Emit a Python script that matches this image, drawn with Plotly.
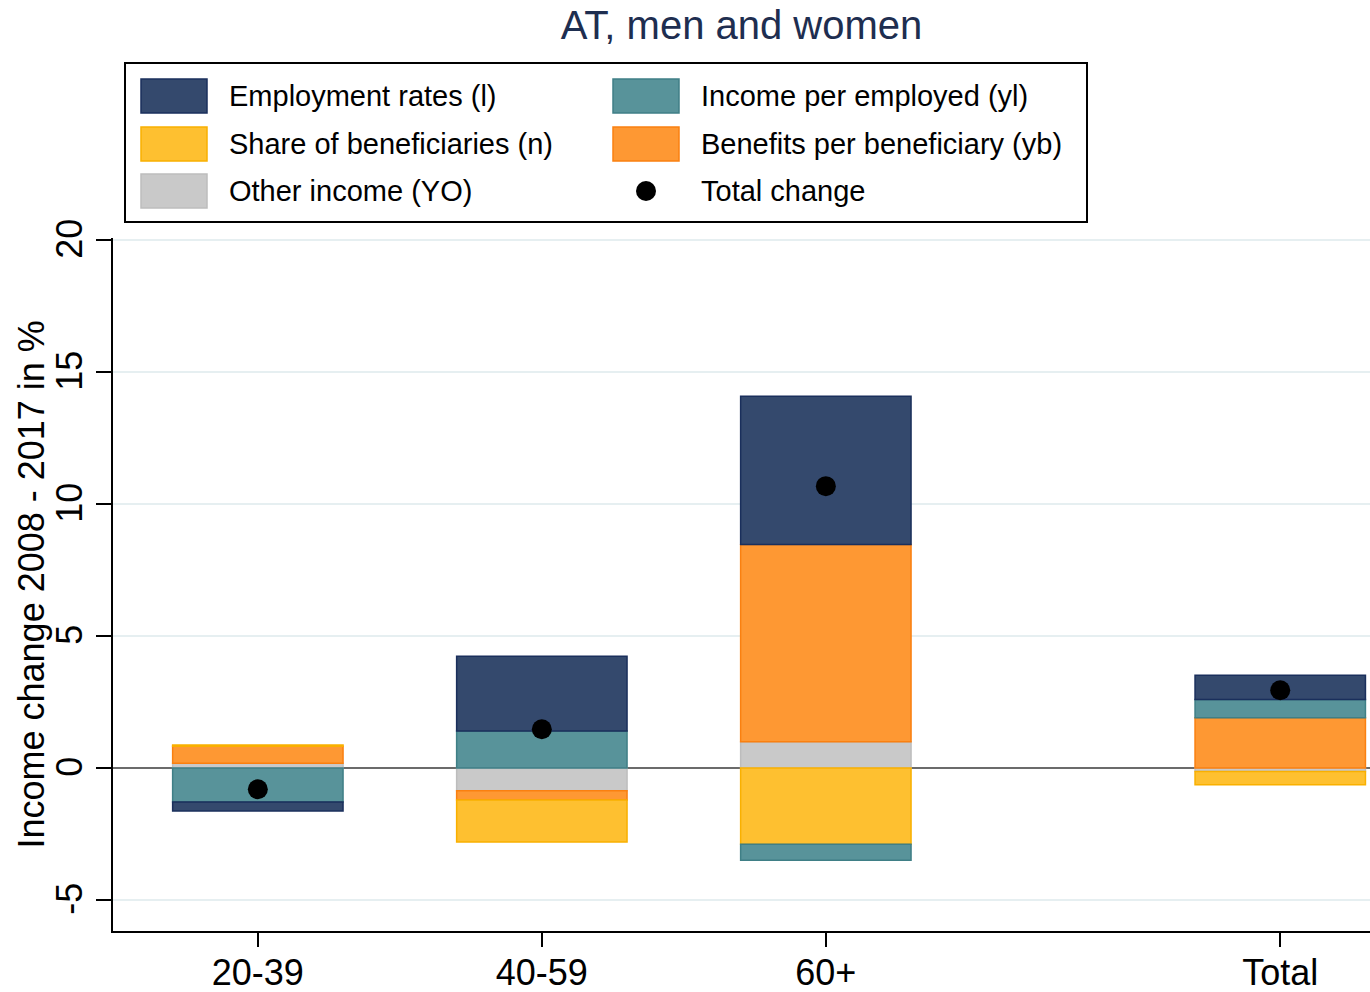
import plotly.graph_objects as go

# Decomposition of income change 2008-2017 by age group, in %
categories = ["20-39", "40-59", "60+", "Total"]
employment_rates = [-0.34, 2.83, 5.62, 0.92]          # (l)
income_per_employed = [-1.28, 1.41, -0.61, 0.69]      # (yl)
share_of_beneficiaries = [0.05, -1.59, -2.88, -0.50]  # (n)
benefits_per_beneficiary = [0.65, -0.35, 7.47, 1.91]  # (yb)
other_income = [0.18, -0.86, 1.00, -0.13]             # (YO)
total_change = [-0.80, 1.47, 10.68, 2.95]
y_ticks = [-5, 0, 5, 10, 15, 20]

# group positions on the x axis (Total set apart from the age groups)
x_pos = [1, 2, 3, 4.6]

W, H = 1370, 992
ML, MR, MT, MB = 113, 0, 238, 61
PW, PH = W - ML - MR, H - MT - MB

FONT = "Liberation Sans, Arial, sans-serif"

# name, values, fill, outline  (trace order = stacking order from zero)
series = [
    ("Other income (YO)", other_income, "#C9C9C9", "#BDBDBD"),
    ("Benefits per beneficiary (yb)", benefits_per_beneficiary, "#FE9833", "#FA8010"),
    ("Share of beneficiaries (n)", share_of_beneficiaries, "#FEC030", "#F9B000"),
    ("Income per employed (yl)", income_per_employed, "#58939A", "#3F7F86"),
    ("Employment rates (l)", employment_rates, "#34496D", "#1A2F5C"),
]
style = {name: (fill, line) for name, _, fill, line in series}

fig = go.Figure()
for name, vals, fill, line in series:
    fig.add_trace(go.Bar(
        x=x_pos, y=vals, name=name, width=0.6,
        marker=dict(color=fill, line=dict(color=line, width=1.5)),
        showlegend=False,
    ))

fig.add_trace(go.Scatter(
    x=x_pos, y=total_change, mode="markers", name="Total change",
    marker=dict(color="black", size=20), showlegend=False,
))


def px_x(p):
    return (p - ML) / PW


def px_y(p):
    return (H - MB - p) / PH


# legend box drawn in pixel units
shapes = [dict(type="rect", xref="paper", yref="paper",
               x0=px_x(125), x1=px_x(1087), y0=px_y(222), y1=px_y(63),
               line=dict(color="black", width=2), fillcolor="white", layer="above")]
annotations = []

legend_rows = [
    ("Employment rates (l)", "Income per employed (yl)"),
    ("Share of beneficiaries (n)", "Benefits per beneficiary (yb)"),
    ("Other income (YO)", "Total change"),
]
row_centers = [96, 144, 191]
col_swatch = [141, 613]
col_text = [227, 699]
for row, yc in zip(legend_rows, row_centers):
    for ci, name in enumerate(row):
        if name in style:
            fill, line = style[name]
            shapes.append(dict(type="rect", xref="paper", yref="paper",
                               x0=px_x(col_swatch[ci]), x1=px_x(col_swatch[ci] + 66),
                               y0=px_y(yc + 17), y1=px_y(yc - 17),
                               fillcolor=fill, line=dict(color=line, width=1.5),
                               layer="above"))
        else:
            cx = col_swatch[ci] + 33
            shapes.append(dict(type="circle", xref="paper", yref="paper",
                               x0=px_x(cx - 10), x1=px_x(cx + 10),
                               y0=px_y(yc + 10), y1=px_y(yc - 10),
                               fillcolor="black", line=dict(color="black", width=0),
                               layer="above"))
        annotations.append(dict(text=name, xref="paper", yref="paper",
                                x=px_x(col_text[ci]), y=px_y(yc),
                                xanchor="left", yanchor="middle", showarrow=False,
                                font=dict(family=FONT, size=29, color="black")))

# y-axis title
annotations.append(dict(text="Income change 2008 - 2017 in %", textangle=-90,
                        xref="paper", yref="paper", x=px_x(31), y=0.5,
                        xanchor="center", yanchor="middle", showarrow=False,
                        font=dict(family=FONT, size=36, color="black")))

fig.update_layout(
    width=W, height=H,
    margin=dict(l=ML, r=MR, t=MT, b=MB, pad=0),
    barmode="relative",
    plot_bgcolor="white", paper_bgcolor="white",
    font=dict(family=FONT, color="black"),
    title=dict(text="AT, men and women", x=0.5, xref="paper", xanchor="center",
               y=1 - 25 / H, yref="container", yanchor="middle",
               font=dict(family=FONT, size=40, color="#1E2E50")),
    shapes=shapes,
    annotations=annotations,
    showlegend=False,
)

fig.update_xaxes(
    range=[0.49, 0.49 + PW / 284],
    tickvals=x_pos, ticktext=categories,
    ticks="outside", ticklen=14, tickwidth=2, tickcolor="black",
    showline=True, linecolor="black", linewidth=2,
    showgrid=False, zeroline=False, automargin=False,
    ticklabelstandoff=-5,
    tickfont=dict(family=FONT, size=36, color="black"),
)
fig.update_yaxes(
    range=[-6.17, 20.08],
    tickvals=y_ticks, ticktext=[str(v) for v in y_ticks],
    tickangle=-90, ticklabelshift=4,
    ticks="outside", ticklen=15, tickwidth=2, tickcolor="black",
    showline=True, linecolor="black", linewidth=2,
    showgrid=True, gridcolor="#E6EFF1", gridwidth=2,
    zeroline=True, zerolinecolor="#6B6B6B", zerolinewidth=2,
    automargin=False,
    tickfont=dict(family=FONT, size=36, color="black"),
)

fig.write_html("out.html")
